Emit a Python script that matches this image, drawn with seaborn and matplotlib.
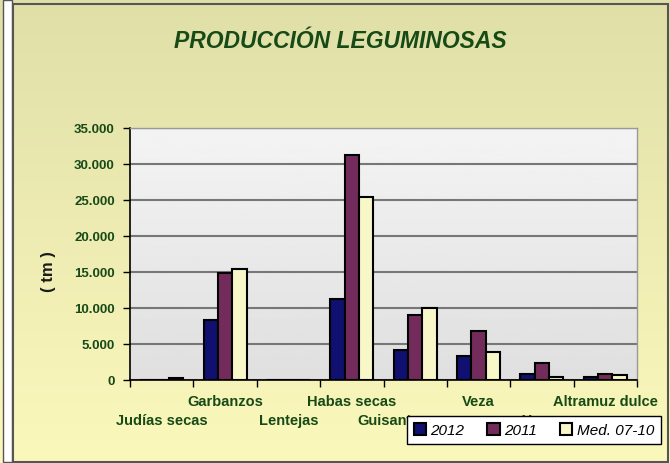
import matplotlib
matplotlib.use("Agg")
import matplotlib.pyplot as plt
import matplotlib.transforms as mtransforms
import seaborn as sns
import pandas as pd
import numpy as np
from matplotlib.patches import Rectangle

cultivos = ["Judías secas", "Garbanzos", "Lentejas", "Habas secas",
            "Guisantes", "Veza", "Yeros", "Altramuz dulce"]
series = ["2012", "2011", "Med. 07-10"]
v2012 = [50, 8300, 40, 11200, 4200, 3350, 830, 470]
v2011 = [60, 14800, 40, 31300, 9050, 6800, 2400, 890]
vmed = [230, 15400, 50, 25450, 9950, 3900, 420, 650]
colores = ["#000080", "#7F1F5F", "#FFFFC0"]
yticks = [0, 5000, 10000, 15000, 20000, 25000, 30000, 35000]

df = pd.DataFrame({
    "cultivo": cultivos * 3,
    "serie": [s for s in series for _ in cultivos],
    "tm": v2012 + v2011 + vmed,
})

verde = "#174a17"
plt.rcParams["font.family"] = ["Liberation Sans", "DejaVu Sans"]

W, H = 670, 464
fig = plt.figure(figsize=(W / 100, H / 100), dpi=100)

# fondo degradado de la figura
bg = fig.add_axes([0, 0, 1, 1], zorder=-10)
grad = np.linspace(0, 1, 256).reshape(-1, 1)
top = np.array([0.878, 0.875, 0.66])
bot = np.array([0.984, 0.973, 0.735])
img = top[None, None, :] * (1 - grad[..., None]) + bot[None, None, :] * grad[..., None]
bg.imshow(img, aspect="auto", extent=[0, W, 0, H], origin="upper")
bg.add_patch(Rectangle((3, 1), 9, H - 2, facecolor="white", edgecolor="#555555", lw=1))
bg.add_patch(Rectangle((12.5, 1.5), W - 15, H - 6, facecolor="none", edgecolor="#555555", lw=1.5))
bg.set_xlim(0, W)
bg.set_ylim(0, H)
bg.axis("off")

ax = fig.add_axes([130 / W, (H - 381) / H, (637 - 130) / W, (381 - 129) / H])
ax.imshow(np.linspace(0.955, 0.875, 256).reshape(-1, 1), cmap="gray", vmin=0, vmax=1,
          aspect="auto", extent=[0, 1, 0, 1], transform=ax.transAxes, zorder=-2)

sns.barplot(data=df, x="cultivo", y="tm", hue="serie", palette=colores,
            edgecolor="black", linewidth=1.5, width=0.68, ax=ax, zorder=2)

ax.set_xlim(-0.5, len(cultivos) - 0.5)
ax.set_ylim(0, 35000)
ax.set_yticks(yticks)
ax.set_yticklabels([f"{v:,}".replace(",", ".") for v in yticks])
ax.yaxis.grid(True, color="#777777", lw=1.5, zorder=0)
ax.set_axisbelow(True)
ax.set_xlabel("")
ax.set_ylabel("")

# etiquetas escalonadas en dos filas
ax.set_xticks(range(len(cultivos)))
ax.set_xticklabels(cultivos, fontsize=10.5, fontweight="bold", color=verde)
ax.tick_params(axis="x", length=0, pad=10)
for i, t in enumerate(ax.get_xticklabels()):
    if i % 2 == 0:
        t.set_y(-19 / 252)
    if cultivos[i] == "Guisantes":
        # en el original esta etiqueta aparece desplazada a la izquierda
        t.set_transform(t.get_transform() +
                        mtransforms.ScaledTranslation(-0.22, 0, fig.dpi_scale_trans))
ax.set_xticks(np.arange(len(cultivos) + 1) - 0.5, minor=True)
ax.tick_params(axis="x", which="minor", length=5, color="black", width=1)
ax.tick_params(axis="y", length=5, color="black", width=1, labelsize=9.5, labelcolor=verde, pad=6)
for t in ax.get_yticklabels():
    t.set_fontweight("bold")

for s in ["left", "bottom"]:
    ax.spines[s].set_color("black")
    ax.spines[s].set_linewidth(1.2)
for s in ["top", "right"]:
    ax.spines[s].set_color("#999999")
    ax.spines[s].set_linewidth(1)

handles, labs = ax.get_legend_handles_labels()
if ax.get_legend() is not None:
    ax.get_legend().remove()
fig.legend(handles, labs, loc="center", bbox_to_anchor=(534 / W, 1 - 431 / H), ncol=3,
           frameon=True, fancybox=False, edgecolor="black", framealpha=1,
           prop={"style": "italic", "size": 11}, handlelength=0.8, handleheight=0.8,
           handletextpad=0.3, columnspacing=1.5, borderpad=0.45)

fig.text(340 / W, 1 - 42 / H, "PRODUCCIÓN LEGUMINOSAS", ha="center", va="center",
         fontsize=16.5, fontweight="bold", fontstyle="italic", color=verde)
fig.text(48 / W, 1 - 272 / H, "( tm )", ha="center", va="center", rotation=90,
         fontsize=12, fontweight="bold", color="#1a1a1a")

fig.savefig("out.png", dpi=100)
